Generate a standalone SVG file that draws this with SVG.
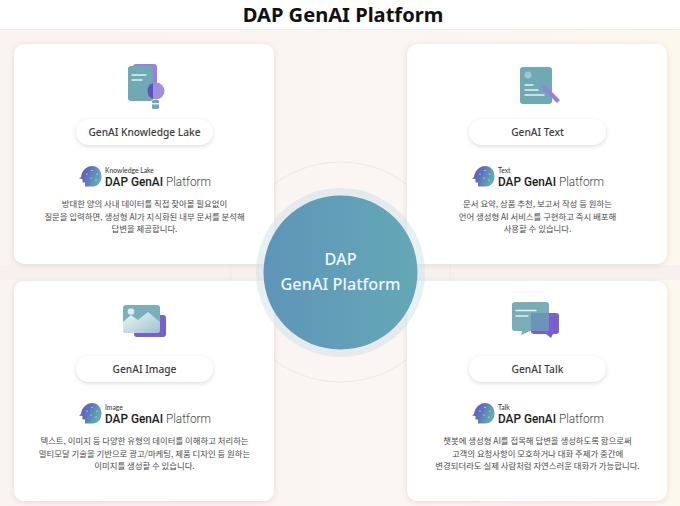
<svg xmlns="http://www.w3.org/2000/svg" width="680" height="506" viewBox="0 0 680 506">
<style>
.card{fill:#fff;filter:url(#cs)}
.pill{fill:#fff;filter:url(#ps)}
.pt{font:500 10.2px "Noto Sans","Noto Sans CJK KR",sans-serif;fill:#3c3c3c;text-anchor:middle}
.b{font:400 8.4px "Noto Sans CJK KR",sans-serif;fill:#4a4a4a;text-anchor:middle}
.ls{font:400 6.8px "Lato",sans-serif;fill:#333}
.lt{font:300 13px "Roboto",sans-serif;fill:#444}
.lb{font-weight:500;fill:#1a1a1a}
</style>
<defs>
<linearGradient id="bg" x1="0" x2="1"><stop offset="0" stop-color="#f9f3f2"/><stop offset=".6" stop-color="#fbf5f3"/><stop offset="1" stop-color="#fdf8ee"/></linearGradient>
<linearGradient id="cc" x1="0" x2="1"><stop offset="0" stop-color="#5f95b8"/><stop offset="1" stop-color="#64a8b6"/></linearGradient>
<linearGradient id="hd" x1="0" x2="1" y1="0" y2=".4"><stop offset="0" stop-color="#6f45cf"/><stop offset=".5" stop-color="#5c75bd"/><stop offset="1" stop-color="#62adb0"/></linearGradient>
<linearGradient id="mt" x1="0" x2="1" y1="0" y2="1"><stop offset="0" stop-color="#f0f7f8"/><stop offset="1" stop-color="#9cc3cb"/></linearGradient>
<filter id="cs" x="-10%" y="-10%" width="120%" height="120%"><feDropShadow dx="0" dy="1" stdDeviation="3" flood-color="#b9a9a9" flood-opacity=".35"/></filter>
<filter id="ps" x="-15%" y="-40%" width="130%" height="190%"><feDropShadow dx="0" dy="1.5" stdDeviation="2" flood-color="#a9a3b5" flood-opacity=".4"/></filter>
<g id="logo">
<path d="M2 11 C3 4 8 0 13 0 C19 0 22.500 5 22.500 10.500 C22.500 16 19 20.500 14 20.500 L6 20.500 L6 16.500 L3.500 16.500 L3.500 13 L0 12.500 Z" fill="url(#hd)"/>
<g fill="#fff"><circle cx="8" cy="8" r=".6"/><circle cx="13" cy="4.500" r=".6"/><circle cx="18" cy="8" r=".6"/><circle cx="12" cy="12" r=".6"/><circle cx="17" cy="14" r=".6"/></g>
<text class="lt" x="26" y="20" textLength="106" lengthAdjust="spacingAndGlyphs"><tspan class="lb">DAP GenAI</tspan> Platform</text>
</g>
</defs>
<rect width="680" height="506" fill="url(#bg)"/>
<rect width="680" height="29" fill="#fff"/>
<rect y="29" width="680" height="1" fill="#ececec"/>
<text x="343" y="22" text-anchor="middle" style="font:700 20.100px 'Noto Sans','Noto Sans CJK KR',sans-serif;fill:#111">DAP GenAI Platform</text>

<rect x="0" y="265" width="680" height="15" fill="#f8f0ef"/>
<circle cx="340.500" cy="272" r="110" fill="none" stroke="#efe8e8"/>

<g id="node-knowledge">
<rect class="card" x="14" y="44" width="260" height="220" rx="10"/>
<rect x="133" y="64" width="24" height="30" rx="3" fill="#9a7fdc"/>
<rect x="128" y="66" width="25" height="35" rx="3" fill="#6ea9b4"/>
<path d="M132 75H146M132 80H142" stroke="#e6f1f3" stroke-width="1.400" stroke-linecap="round"/>
<rect x="152" y="100" width="7" height="9" rx="1.500" fill="#6ea9b4"/>
<rect x="152" y="103" width="7" height="1.500" fill="#e6f1f3"/>
<circle cx="156" cy="91" r="8.500" fill="#a48de0"/>
<path d="M153 83.050A8.500 8.500 0 0 0 153 98.950Z" fill="#5a55bd"/>
<rect class="pill" x="76" y="119" width="137" height="26" rx="13"/>
<text class="pt" x="144.500" y="136">GenAI Knowledge Lake</text>
<use href="#logo" x="79" y="166"/>
<text class="ls" x="105" y="172.500">Knowledge Lake</text>
<text class="b" x="144.500" y="207">방대한 양의 사내 데이터를 직접 찾아볼 필요없이</text>
<text class="b" x="144.500" y="220">질문을 입력하면, 생성형 AI가 지식화된 내부 문서를 분석해</text>
<text class="b" x="144.500" y="232">답변을 제공합니다.</text>
</g>

<g id="node-text">
<rect class="card" x="407" y="44" width="260" height="220" rx="10"/>
<rect x="520" y="67" width="32" height="37" rx="3" fill="#6ea9b4"/>
<circle cx="528" cy="75" r="3.500" fill="#9cc8cf"/>
<path d="M525 85H533M525 90H538M525 95H544" stroke="#e6f1f3" stroke-width="1.300" stroke-linecap="round"/>
<path d="M541 87L544 84L560 100L557 103Z" fill="#9a7fdc"/>
<rect class="pill" x="469" y="119" width="137" height="26" rx="13"/>
<text class="pt" x="537.500" y="136">GenAI Text</text>
<use href="#logo" x="472" y="166"/>
<text class="ls" x="498" y="172.500">Text</text>
<text class="b" x="537.500" y="207">문서 요약, 상품 추천, 보고서 작성 등 원하는</text>
<text class="b" x="537.500" y="220">언어 생성형 AI 서비스를 구현하고 즉시 배포해</text>
<text class="b" x="537.500" y="232">사용할 수 있습니다.</text>
</g>

<g id="node-image">
<rect class="card" x="14" y="281" width="260" height="220" rx="10"/>
<rect x="134" y="315" width="32" height="22" rx="3" fill="#7a5fd0"/>
<rect x="123" y="305" width="37" height="28" rx="3" fill="#79b0bb"/>
<circle cx="131" cy="311.500" r="3.300" fill="#dcecef"/>
<path d="M123 322L131 315L138 320L148 312L160 322V330Q160 333 157 333H126Q123 333 123 330Z" fill="url(#mt)"/>
<rect class="pill" x="76" y="356" width="137" height="26" rx="13"/>
<text class="pt" x="144.500" y="373">GenAI Image</text>
<use href="#logo" x="79" y="403"/>
<text class="ls" x="105" y="409.500">Image</text>
<text class="b" x="144.500" y="444">텍스트, 이미지 등 다양한 유형의 데이터를 이해하고 처리하는</text>
<text class="b" x="144.500" y="457">멀티모달 기술을 기반으로 광고/마케팅, 제품 디자인 등 원하는</text>
<text class="b" x="144.500" y="469">이미지를 생성할 수 있습니다.</text>
</g>

<g id="node-talk">
<rect class="card" x="407" y="281" width="260" height="220" rx="10"/>
<path d="M534 313H556Q559 313 559 316V331Q559 334 556 334H553L551 338L546 334H534Q531 334 531 331V316Q531 313 534 313Z" fill="#7a5fd0"/>
<path d="M515 302H546Q549 302 549 305V328Q549 331 546 331H530L521 335L522 331H515Q512 331 512 328V305Q512 302 515 302Z" fill="#79aeb9"/>
<path d="M531 313H549V328Q549 331 546 331H531Z" fill="#6b95b6"/>
<path d="M516 310.500H536M516 316H528" stroke="#e6f1f3" stroke-width="1.300" stroke-linecap="round"/>
<rect class="pill" x="469" y="356" width="137" height="26" rx="13"/>
<text class="pt" x="537.500" y="373">GenAI Talk</text>
<use href="#logo" x="472" y="403"/>
<text class="ls" x="498" y="409.500">Talk</text>
<text class="b" x="537.500" y="444">챗봇에 생성형 AI를 접목해 답변을 생성하도록 함으로써</text>
<text class="b" x="537.500" y="457">고객의 요청사항이 모호하거나 대화 주제가 중간에</text>
<text class="b" x="537.500" y="469">변경되더라도 실제 사람처럼 자연스러운 대화가 가능합니다.</text>
</g>

<g id="node-center">
<circle cx="340.500" cy="272.500" r="84.500" fill="#cfe2e7" fill-opacity=".5"/>
<circle cx="340.500" cy="272.500" r="77" fill="url(#cc)"/>
<g style="font:500 16.300px 'Noto Sans',sans-serif;fill:#eef6f8" text-anchor="middle">
<text x="340.500" y="265">DAP</text>
<text x="340.500" y="290">GenAI Platform</text>
</g>
</g>
</svg>
